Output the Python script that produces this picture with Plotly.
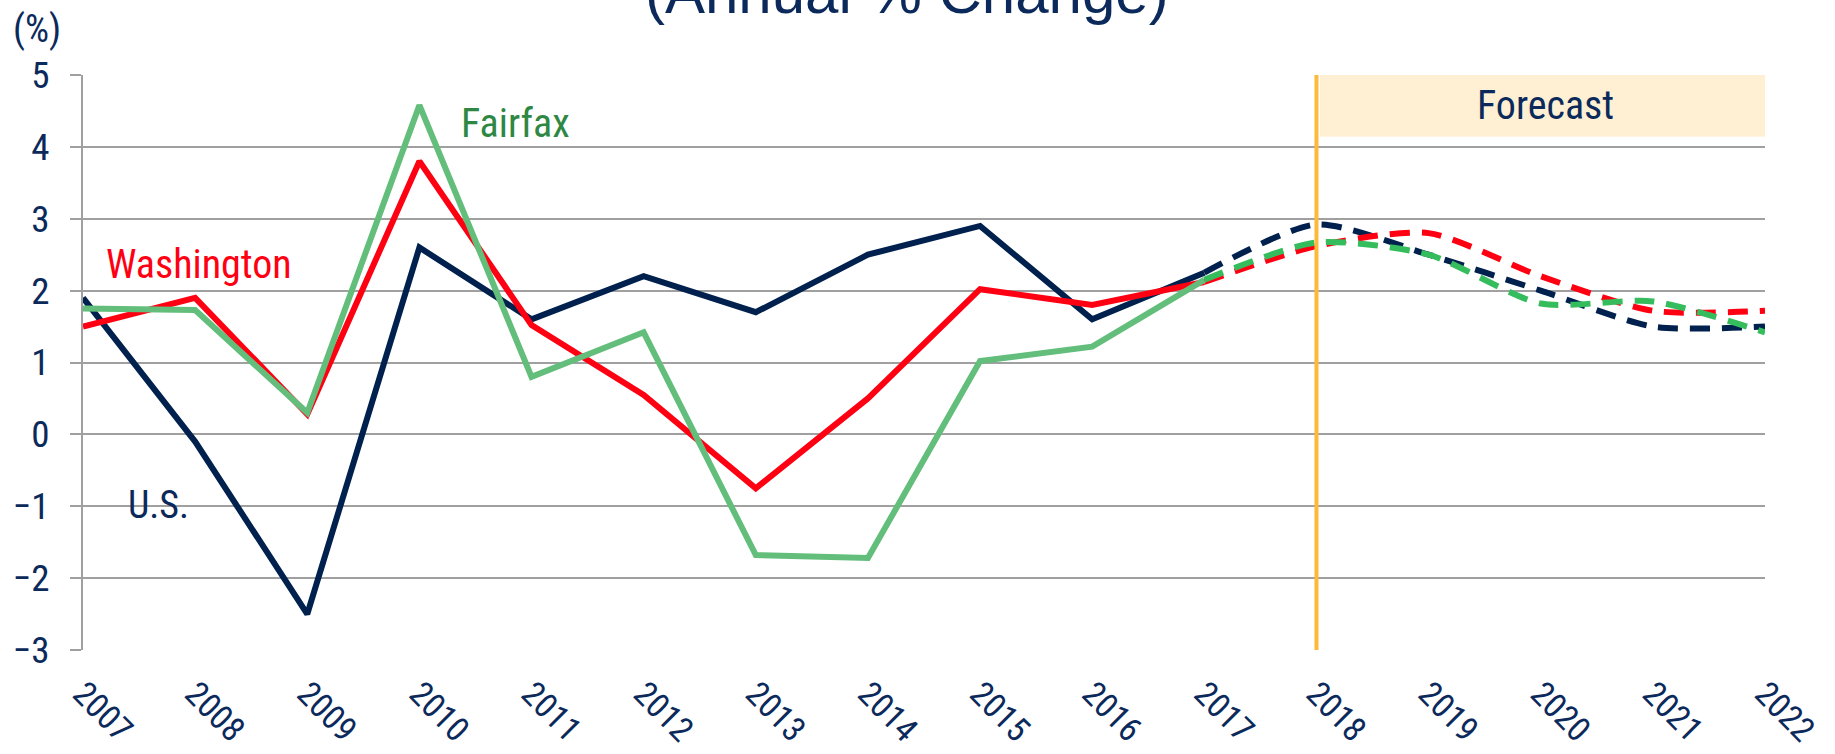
import plotly.graph_objects as go

years = list(range(2007, 2018))
us_hist = [1.9, -0.1, -2.5, 2.6, 1.6, 2.2, 1.7, 2.5, 2.9, 1.6, 2.25]
wa_hist = [1.5, 1.9, 0.28, 3.8, 1.52, 0.55, -0.75, 0.5, 2.02, 1.8, 2.12]
fx_hist = [1.75, 1.73, 0.3, 4.58, 0.8, 1.42, -1.68, -1.72, 1.02, 1.22, 2.15]

fc_years = list(range(2017, 2023))
us_fc = [2.25, 2.92, 2.5, 2.0, 1.5, 1.5]
wa_fc = [2.12, 2.62, 2.8, 2.2, 1.72, 1.72]
fx_fc = [2.15, 2.67, 2.5, 1.82, 1.85, 1.42]

tick_years = list(range(2007, 2023))
y_ticks = list(range(-3, 6))

NAVY = "#00214E"
TXT = "#0B2A5B"
RED = "#FF0012"
GREEN = "#62BE7A"
GREEN_D = "#35BD5D"
NARROW = "Liberation Sans Narrow, Arial Narrow, Roboto Condensed, Liberation Sans, sans-serif"
REG = "Liberation Sans, Arial, sans-serif"

fig = go.Figure()
fig.add_trace(go.Scatter(x=fc_years, y=us_fc, mode="lines", line=dict(color=NAVY, width=6, dash="20px,12px", shape="spline", smoothing=0.7), hoverinfo="skip"))
fig.add_trace(go.Scatter(x=fc_years, y=wa_fc, mode="lines", line=dict(color=RED, width=6, dash="20px,12px", shape="spline", smoothing=0.7), hoverinfo="skip"))
fig.add_trace(go.Scatter(x=fc_years, y=fx_fc, mode="lines", line=dict(color=GREEN_D, width=6, dash="20px,12px", shape="spline", smoothing=0.7), hoverinfo="skip"))
fig.add_trace(go.Scatter(x=years, y=us_hist, mode="lines", line=dict(color=NAVY, width=6), hoverinfo="skip"))
fig.add_trace(go.Scatter(x=years, y=wa_hist, mode="lines", line=dict(color=RED, width=6), hoverinfo="skip"))
fig.add_trace(go.Scatter(x=years, y=fx_hist, mode="lines", line=dict(color=GREEN, width=6), hoverinfo="skip"))

fig.add_shape(type="line", x0=2018, x1=2018, y0=-3, y1=5, xref="x", yref="y",
              line=dict(color="#FDB93A", width=4), layer="above")
fig.add_shape(type="rect", x0=2018.03, x1=2022.05, y0=4.14, y1=5.02, xref="x", yref="y",
              fillcolor="#FFF0D4", line=dict(width=0), layer="above")

ann = [
    dict(text="Forecast", x=2020.04, y=4.58, color=TXT, size=40),
    dict(text="Fairfax", x=2010.86, y=4.32, color="#2E8742", size=40),
    dict(text="Washington", x=2008.03, y=2.36, color=RED, size=40),
    dict(text="U.S.", x=2007.67, y=-0.98, color=TXT, size=38),
]
for a in ann:
    fig.add_annotation(text=a["text"], x=a["x"], y=a["y"], xref="x", yref="y", showarrow=False,
                       font=dict(family=NARROW, size=a["size"], color=a["color"]),
                       xanchor="center", yanchor="middle")

fig.add_annotation(text="(%)", x=-0.0273, y=1.08, xref="paper", yref="paper", showarrow=False,
                   font=dict(family=NARROW, size=38, color=TXT), xanchor="center", yanchor="middle")
fig.add_annotation(text="(Annual % Change)", x=(907 - 83) / 1682, y=1 + 82 / 575, xref="paper", yref="paper",
                   showarrow=False, font=dict(family=REG, size=60, color=TXT), xanchor="center", yanchor="middle")

fig.update_layout(
    width=1835, height=754,
    margin=dict(l=83, r=70, t=75, b=104, autoexpand=False),
    paper_bgcolor="white", plot_bgcolor="white",
    showlegend=False,
    xaxis=dict(range=[2007, 2022], tickvals=tick_years, ticktext=[str(y) for y in tick_years],
               tickangle=45, showgrid=False, zeroline=False, showline=False, automargin=False,
               tickfont=dict(family=NARROW, size=34, color=TXT), ticks="", ticklabelstandoff=16),
    yaxis=dict(range=[-3, 5], tickvals=y_ticks, showgrid=True, gridcolor="#A0A0A0", gridwidth=2,
               zeroline=False, showline=True, linecolor="#A0A0A0", linewidth=2, automargin=False,
               ticks="outside", ticklen=11, tickcolor="#A0A0A0", tickwidth=2,
               tickfont=dict(family=NARROW, size=37, color=TXT), ticklabelstandoff=13),
)

fig.write_html("out.html", config={"displayModeBar": False},
               post_script="document.body.style.margin='0px';document.body.style.overflow='hidden';")
